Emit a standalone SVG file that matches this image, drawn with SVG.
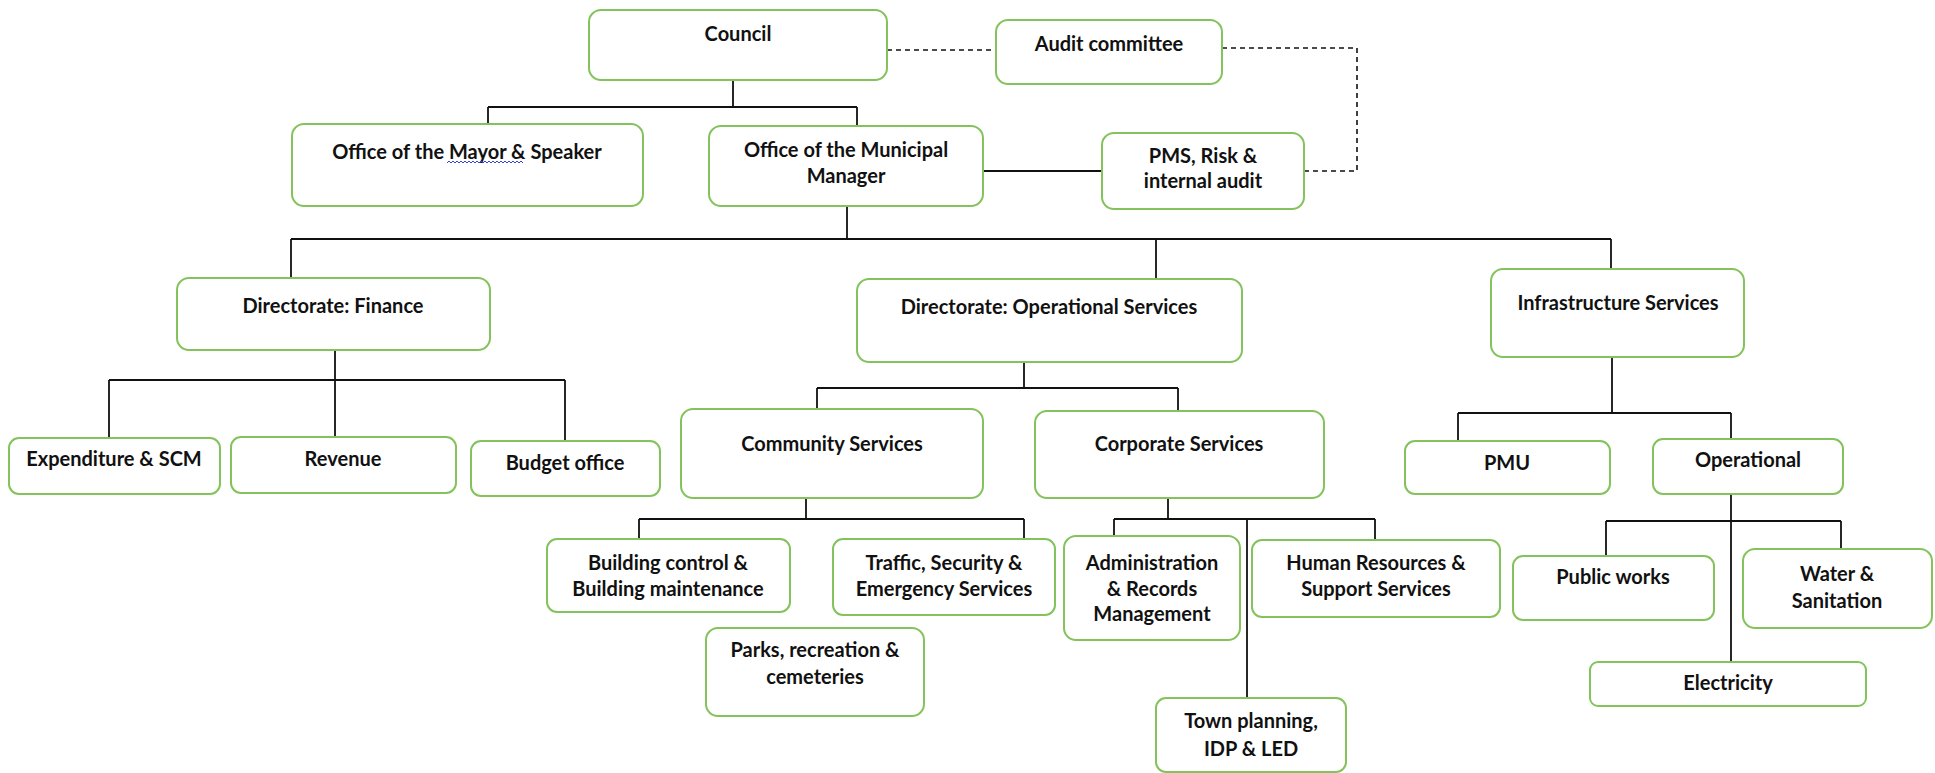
<svg xmlns="http://www.w3.org/2000/svg" width="1935" height="773" viewBox="0 0 1935 773">
<style>
.box{fill:#ffffff;stroke:#84c35c;stroke-width:2}
.t{font-family:Lato,"Liberation Sans",sans-serif;font-weight:bold;font-size:20px;fill:#111111;text-anchor:middle}
.c{fill:none;stroke:#111111;stroke-width:1.8}
.d{fill:none;stroke:#111111;stroke-width:1.6;stroke-dasharray:5 4}
</style>
<rect width="1935" height="773" fill="#ffffff"/>
<g id="connectors">
<path class="c" d="M733 80V107M488 107H857M488 107V124M857 107V126"/>
<path class="d" d="M887 50H996M1222 48H1357V171H1304"/>
<path class="c" d="M983 171H1102"/>
<path class="c" d="M847 206V239M291 239H1611M291 239V278M1156 239V279M1611 239V269"/>
<path class="c" d="M335 350V380M109 380H565M109 380V438M335 380V437M565 380V441"/>
<path class="c" d="M1024 362V388M817 388H1178M817 388V409M1178 388V411"/>
<path class="c" d="M806 498V519M639 519H1024M639 519V539M1024 519V539"/>
<path class="c" d="M1168 498V519M1114 519H1375M1114 519V536M1375 519V540M1247 519V698"/>
<path class="c" d="M1612 357V413M1458 413H1731M1458 413V441M1731 413V439"/>
<path class="c" d="M1731 494V521M1606 521H1841M1606 521V556M1841 521V549M1731 521V662"/>
</g>
<g id="council"><rect class="box" x="589" y="10" width="298" height="70" rx="12"/><text class="t" x="738" y="41">Council</text></g>
<g id="audit"><rect class="box" x="996" y="20" width="226" height="64" rx="12"/><text class="t" x="1109" y="51">Audit committee</text></g>
<g id="mayor"><rect class="box" x="292" y="124" width="351" height="82" rx="12"/><text class="t" x="467" y="159">Office of the Mayor &amp; Speaker</text><path d="M447 163l2-2 2 2 2-2 2 2 2-2 2 2 2-2 2 2 2-2 2 2 2-2 2 2 2-2 2 2 2-2 2 2 2-2 2 2 2-2 2 2 2-2 2 2 2-2 2 2 2-2 2 2 2-2 2 2 2-2 2 2 2-2 2 2 2-2 2 2 2-2 2 2 2-2 2 2" fill="none" stroke="#3344dd" stroke-width="1"/></g>
<g id="omm"><rect class="box" x="709" y="126" width="274" height="80" rx="12"/><text class="t" x="846" y="157">Office of the Municipal</text><text class="t" x="846" y="183">Manager</text></g>
<g id="pms"><rect class="box" x="1102" y="133" width="202" height="76" rx="12"/><text class="t" x="1203" y="163">PMS, Risk &amp;</text><text class="t" x="1203" y="188">internal audit</text></g>
<g id="dirfin"><rect class="box" x="177" y="278" width="313" height="72" rx="12"/><text class="t" x="333" y="313">Directorate: Finance</text></g>
<g id="dirops"><rect class="box" x="857" y="279" width="385" height="83" rx="12"/><text class="t" x="1049" y="314">Directorate: Operational Services</text></g>
<g id="infra"><rect class="box" x="1491" y="269" width="253" height="88" rx="12"/><text class="t" x="1618" y="310">Infrastructure Services</text></g>
<g id="exp"><rect class="box" x="9" y="438" width="211" height="56" rx="10"/><text class="t" x="114" y="466">Expenditure &amp; SCM</text></g>
<g id="revenue"><rect class="box" x="231" y="437" width="225" height="56" rx="10"/><text class="t" x="343" y="466">Revenue</text></g>
<g id="budget"><rect class="box" x="471" y="441" width="189" height="55" rx="10"/><text class="t" x="565" y="470">Budget office</text></g>
<g id="community"><rect class="box" x="681" y="409" width="302" height="89" rx="12"/><text class="t" x="832" y="451">Community Services</text></g>
<g id="corporate"><rect class="box" x="1035" y="411" width="289" height="87" rx="12"/><text class="t" x="1179" y="451">Corporate Services</text></g>
<g id="pmu"><rect class="box" x="1405" y="441" width="205" height="53" rx="10"/><text class="t" x="1507" y="470">PMU</text></g>
<g id="operational"><rect class="box" x="1653" y="439" width="190" height="55" rx="10"/><text class="t" x="1748" y="467">Operational</text></g>
<g id="building"><rect class="box" x="547" y="539" width="243" height="73" rx="10"/><text class="t" x="668" y="570">Building control &amp;</text><text class="t" x="668" y="596">Building maintenance</text></g>
<g id="traffic"><rect class="box" x="833" y="539" width="222" height="76" rx="10"/><text class="t" x="944" y="570">Traffic, Security &amp;</text><text class="t" x="944" y="596">Emergency Services</text></g>
<g id="parks"><rect class="box" x="706" y="628" width="218" height="88" rx="12"/><text class="t" x="815" y="657">Parks, recreation &amp;</text><text class="t" x="815" y="684">cemeteries</text></g>
<g id="admin"><rect class="box" x="1064" y="536" width="176" height="104" rx="12"/><text class="t" x="1152" y="570">Administration</text><text class="t" x="1152" y="596">&amp; Records</text><text class="t" x="1152" y="621">Management</text></g>
<g id="hr"><rect class="box" x="1252" y="540" width="248" height="77" rx="10"/><text class="t" x="1376" y="570">Human Resources &amp;</text><text class="t" x="1376" y="596">Support Services</text></g>
<g id="town"><rect class="box" x="1156" y="698" width="190" height="74" rx="10"/><text class="t" x="1251" y="728">Town planning,</text><text class="t" x="1251" y="756">IDP &amp; LED</text></g>
<g id="publicworks"><rect class="box" x="1513" y="556" width="201" height="64" rx="10"/><text class="t" x="1613" y="584">Public works</text></g>
<g id="water"><rect class="box" x="1743" y="549" width="189" height="79" rx="12"/><text class="t" x="1837" y="581">Water &amp;</text><text class="t" x="1837" y="608">Sanitation</text></g>
<g id="electricity"><rect class="box" x="1590" y="662" width="276" height="44" rx="8"/><text class="t" x="1728" y="690">Electricity</text></g>
</svg>
